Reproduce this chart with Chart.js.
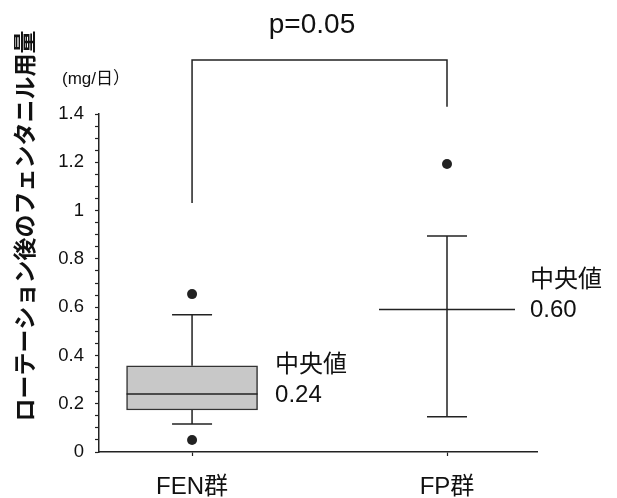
<!DOCTYPE html>
<html>
<head>
<meta charset="utf-8">
<script src="https://cdn.jsdelivr.net/npm/chart.js@4"></script>
<style>
  body { margin: 0; background: #fff; }
</style>
</head>
<body>
<canvas id="box-chart" width="617" height="498"></canvas>
<script>
const groups = ["FEN群", "FP群"];
const box_low = [0.174, null];
const box_high = [0.357, null];
const medians = [0.24, 0.59];
const median_text = ["0.24", "0.60"];
const whisker_low = [0.116, 0.146];
const whisker_high = [0.569, 0.895];
const outliers_fen = [0.654, 0.05];
const outliers_fp = [1.193];
const bracket_ends = [1.031, 1.43];
const bracket_top = 1.624;
const p_text = "p=0.05";
const y_title = "ローテーション後のフェンタニル用量";
const unit_text = "(mg/日）";

const FONT = "'Liberation Sans', Arial, 'Noto Sans CJK JP', sans-serif";
const INK = "#222";
Chart.defaults.font.family = FONT;

// box bodies (only groups that have one)
const box_data = [];
groups.forEach((g, i) => {
  if (box_low[i] != null) box_data.push({x: i + 1, y: [box_low[i], box_high[i]]});
});

// whisker segments, broken with nulls where the box sits
const whisker_data = [];
groups.forEach((g, i) => {
  const x = i + 1;
  if (box_low[i] != null) {
    whisker_data.push({x, y: box_high[i]}, {x, y: whisker_high[i]}, {x, y: null});
    whisker_data.push({x, y: box_low[i]}, {x, y: whisker_low[i]}, {x, y: null});
  } else {
    whisker_data.push({x, y: whisker_low[i]}, {x, y: whisker_high[i]}, {x, y: null});
  }
});

const cap_data = [];
groups.forEach((g, i) => {
  cap_data.push({x: i + 1, y: whisker_high[i]}, {x: i + 1, y: whisker_low[i]});
});

const median_data = medians.map((m, i) => ({x: i + 1, y: m}));
const outlier_data = outliers_fen.map(v => ({x: 1, y: v}))
  .concat(outliers_fp.map(v => ({x: 2, y: v})));
const bracket_data = [
  {x: 1, y: bracket_ends[0]}, {x: 1, y: bracket_top},
  {x: 2, y: bracket_top}, {x: 2, y: bracket_ends[1]}
];

const labels_plugin = {
  id: "labels",
  afterDraw(chart) {
    const ctx = chart.ctx;
    const xs = chart.scales.x, ys = chart.scales.y;
    ctx.save();
    ctx.fillStyle = "#111";
    ctx.textBaseline = "middle";

    ctx.textAlign = "center";
    ctx.font = "28px " + FONT;
    ctx.fillText(p_text, 312, 25);

    ctx.textAlign = "left";
    ctx.font = "17px " + FONT;
    ctx.fillText(unit_text, 62, 79);

    ctx.font = "24px " + FONT;
    medians.forEach((m, i) => {
      const px = xs.getPixelForValue(i + 1) + 83;
      const py = ys.getPixelForValue(m);
      ctx.fillText(median_text[i], px, py + 1);
      ctx.fillText("中央値", px, py - 29);
    });

    ctx.translate(27, 226);
    ctx.rotate(-Math.PI / 2);
    ctx.textAlign = "center";
    ctx.font = "bold 23px " + FONT;
    ctx.fillText(y_title, 0, 0);
    ctx.restore();
  }
};

new Chart(document.getElementById("box-chart"), {
  type: "scatter",
  data: {
    datasets: [
      {
        type: "bar",
        data: box_data,
        barThickness: 131,
        backgroundColor: "#c8c8c8",
        borderColor: "#333",
        borderWidth: 1.5,
        borderSkipped: false,
        order: 10
      },
      {
        type: "line",
        data: whisker_data,
        borderColor: INK,
        borderWidth: 1.5,
        pointRadius: 0,
        spanGaps: false,
        order: 8
      },
      {
        data: cap_data,
        pointStyle: "line",
        pointRadius: 20,
        pointBorderColor: INK,
        pointBorderWidth: 1.5,
        order: 6
      },
      {
        data: median_data,
        pointStyle: "line",
        pointRadius: [65.5, 68],
        pointBorderColor: INK,
        pointBorderWidth: 1.5,
        order: 4
      },
      {
        data: outlier_data,
        pointStyle: "circle",
        pointRadius: 5,
        pointBackgroundColor: INK,
        pointBorderColor: INK,
        pointBorderWidth: 0,
        order: 2
      },
      {
        type: "line",
        data: bracket_data,
        borderColor: INK,
        borderWidth: 1.5,
        pointRadius: 0,
        clip: false,
        order: 0
      }
    ]
  },
  options: {
    responsive: false,
    animation: false,
    events: [],
    devicePixelRatio: 1,
    layout: { autoPadding: false, padding: { top: 114, right: 80, left: 0, bottom: 0 } },
    plugins: { legend: { display: false }, tooltip: { enabled: false } },
    scales: {
      x: {
        type: "linear",
        min: 0.635,
        max: 2.353,
        offset: false,
        afterBuildTicks: s => { s.ticks = groups.map((g, i) => ({value: i + 1})); },
        afterFit: s => { s.height = 46; },
        border: { color: INK, width: 1.5 },
        grid: { offset: false, drawOnChartArea: false, tickLength: 4, tickColor: INK, tickWidth: 1.2 },
        ticks: {
          autoSkip: false,
          maxRotation: 0,
          padding: 17,
          color: "#111",
          font: { size: 24 },
          callback: v => groups[Math.round(v) - 1]
        }
      },
      y: {
        min: 0,
        max: 1.4,
        afterFit: s => { s.width = 99; },
        border: { color: INK, width: 1.5 },
        grid: { drawOnChartArea: false, tickLength: 4, tickColor: INK, tickWidth: 1.2 },
        ticks: {
          stepSize: 0.05,
          autoSkip: false,
          padding: 11,
          color: "#111",
          font: { size: 18.5 },
          callback: v => {
            const r = Math.round(v * 20);
            return r % 4 === 0 ? String(Math.round(v * 10) / 10) : "";
          }
        }
      }
    }
  },
  plugins: [labels_plugin]
});
</script>
</body>
</html>
